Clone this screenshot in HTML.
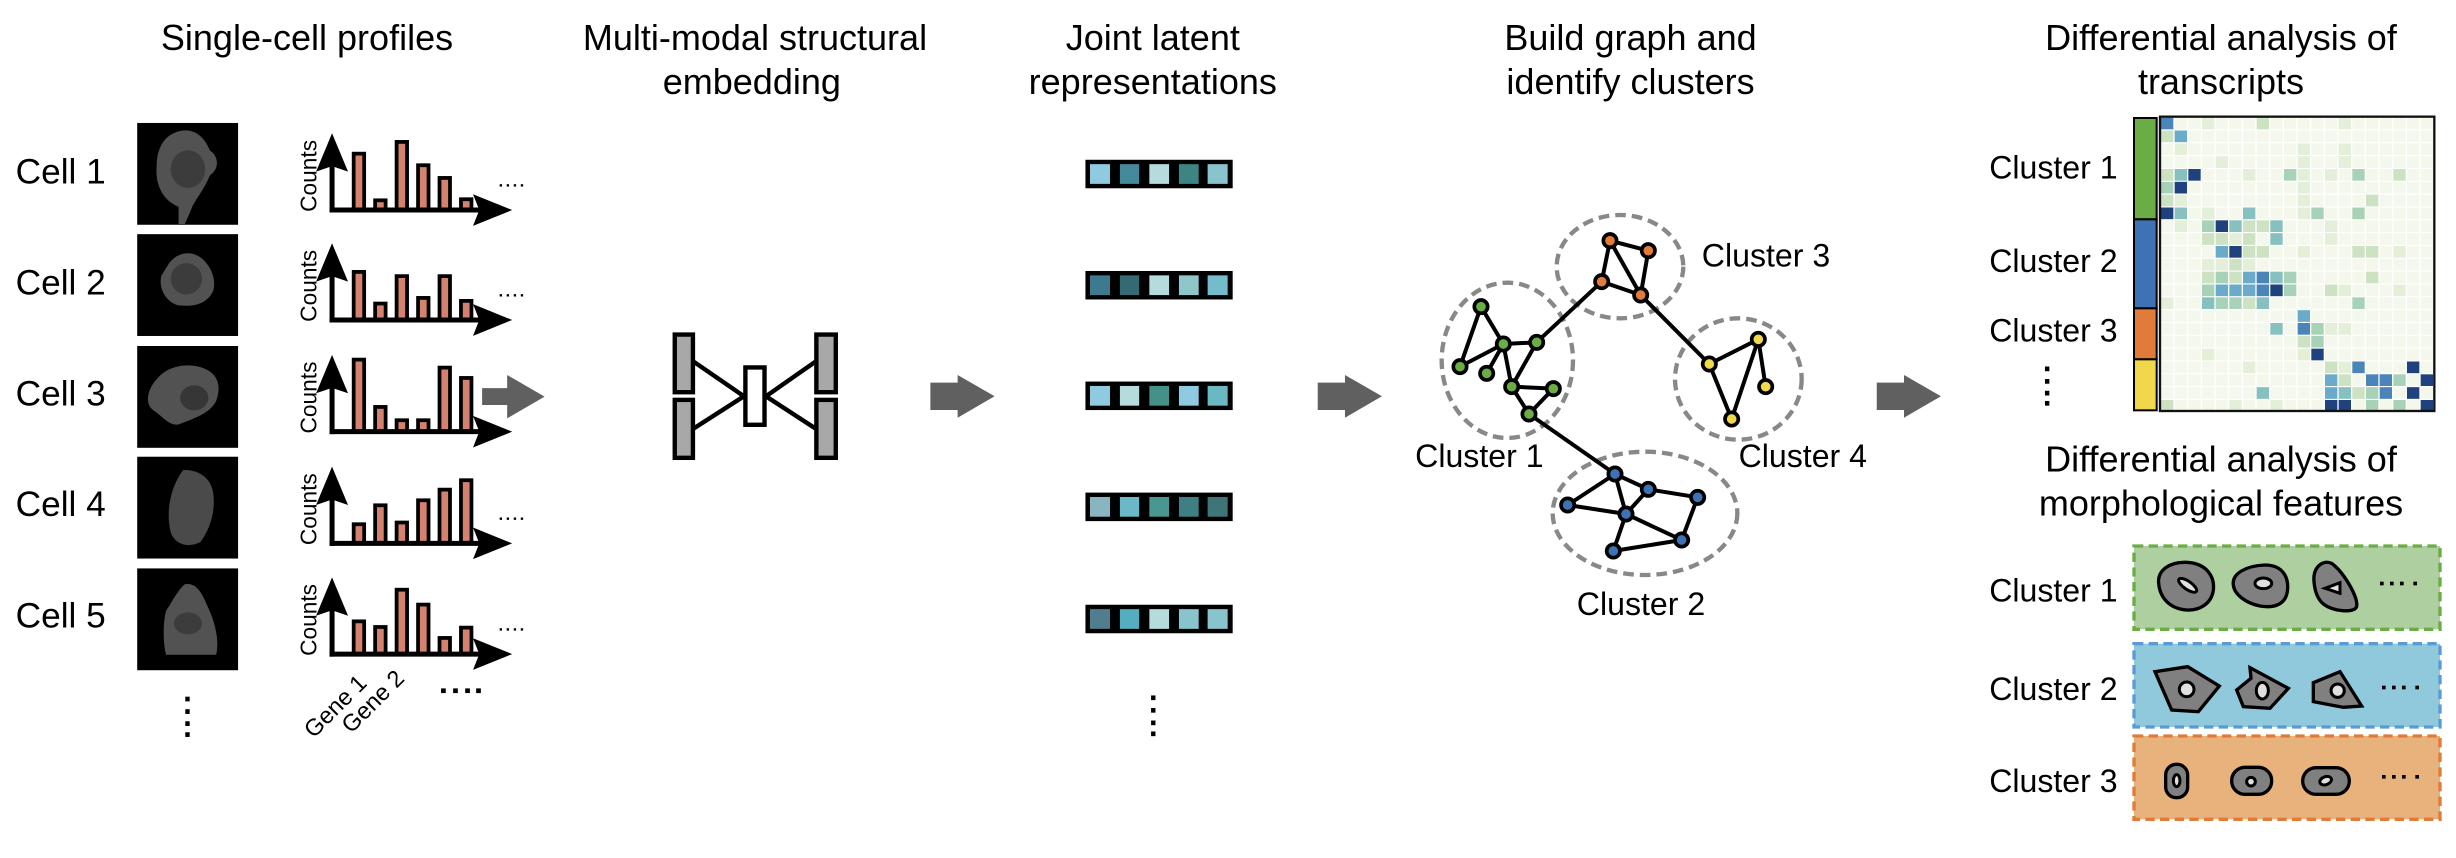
<!DOCTYPE html>
<html><head><meta charset="utf-8"><style>
html,body{margin:0;padding:0;background:#fff;}
svg{display:block;}
text{font-family:"Liberation Sans",Arial,sans-serif;fill:#000;}
</style></head><body>
<svg width="2456" height="858" viewBox="0 0 2456 858" xmlns="http://www.w3.org/2000/svg">
<defs>
<pattern id="grid" x="603" y="53" width="41" height="38.5" patternUnits="userSpaceOnUse">
<rect x="0" y="0" width="41" height="38.5" fill="#ffffff"/>
<rect x="0" y="0" width="37" height="35" fill="#f4f8ec"/>
</pattern>
</defs>
<rect width="2456" height="858" fill="#fff"/>
<g transform="scale(1.5663)">
<g font-size="23" text-anchor="middle">
<text x="196" y="32">Single-cell profiles</text>
<text x="482" y="32">Multi-modal structural</text>
<text x="480" y="60">embedding</text>
<text x="736" y="32">Joint latent</text>
<text x="736" y="60">representations</text>
<text x="1041" y="32">Build graph and</text>
<text x="1041" y="60">identify clusters</text>
<text x="1418" y="32">Differential analysis of</text>
<text x="1418" y="60">transcripts</text>
<text x="1418" y="301">Differential analysis of</text>
<text x="1418" y="329">morphological features</text>
</g>
<g font-size="22.5">
<text x="10" y="117">Cell 1</text>
<text x="10" y="188">Cell 2</text>
<text x="10" y="259">Cell 3</text>
<text x="10" y="329.5">Cell 4</text>
<text x="10" y="400.5">Cell 5</text>
</g>
<g>
<rect x="87.6" y="78.5" width="64.4" height="65" fill="#000"/>
<path d="M111,85 C122,80 130,86 134,96 C140,100 140,108 134,112 C130,122 124,128 122,134 L118,143 L114,143 L114,132 C104,128 99,118 100,106 C100,96 104,88 111,85 Z" fill="#525252"/>
<ellipse cx="120" cy="108" rx="11" ry="12" fill="#3c3c3c"/>
<rect x="87.6" y="149.5" width="64.4" height="65" fill="#000"/>
<path d="M108,168 C114,160 124,160 130,166 C136,172 138,180 136,186 C132,194 124,196 114,195 C106,193 101,184 103,176 Z" fill="#525252"/>
<ellipse cx="119" cy="178" rx="10" ry="10" fill="#3c3c3c"/>
<rect x="87.6" y="220.9" width="64.4" height="65" fill="#000"/>
<path d="M101,241 C108,233 122,231 132,236 C140,240 141,248 138,256 C134,264 124,267 114,271 C108,272 104,266 98,262 C92,258 94,248 101,241 Z" fill="#525252"/>
<ellipse cx="124" cy="254" rx="9" ry="8" fill="#363636"/>
<rect x="87.6" y="291.6" width="64.4" height="65" fill="#000"/>
<path d="M117,300 C126,300 134,304 136,314 C138,326 134,338 128,346 C120,350 112,348 109,340 C106,328 108,312 117,300 Z" fill="#4a4a4a"/>
<rect x="87.6" y="362.9" width="64.4" height="65" fill="#000"/>
<path d="M118,373 C124,372 128,376 132,386 C138,398 140,410 138,418 L106,418 C104,410 104,398 106,390 C110,384 114,376 118,373 Z" fill="#525252"/>
<ellipse cx="120" cy="398" rx="9" ry="7" fill="#3c3c3c"/>
</g>
<g fill="#000">
<rect x="118.3" y="444.8" width="2.8" height="3"/><rect x="118.3" y="452.8" width="2.8" height="3"/><rect x="118.3" y="460.5" width="2.8" height="3"/><rect x="118.3" y="467.5" width="2.8" height="3"/>
</g>
<g transform="translate(0,134.1)">
<g fill="#d4826e" stroke="#000" stroke-width="2.4">
<rect x="225.8" y="-36" width="6.7" height="36"/>
<rect x="239.5" y="-6.2" width="6.7" height="6.2"/>
<rect x="253.2" y="-43.5" width="6.7" height="43.5"/>
<rect x="266.9" y="-28.6" width="6.7" height="28.6"/>
<rect x="280.6" y="-20.5" width="6.7" height="20.5"/>
<rect x="294.3" y="-6.9" width="6.7" height="6.9"/>
</g>
</g>
<g transform="translate(0,204.3)">
<g fill="#d4826e" stroke="#000" stroke-width="2.4">
<rect x="225.8" y="-30.7" width="6.7" height="30.7"/>
<rect x="239.5" y="-10.5" width="6.7" height="10.5"/>
<rect x="253.2" y="-28" width="6.7" height="28"/>
<rect x="266.9" y="-14.1" width="6.7" height="14.1"/>
<rect x="280.6" y="-28" width="6.7" height="28"/>
<rect x="294.3" y="-12.2" width="6.7" height="12.2"/>
</g>
</g>
<g transform="translate(0,275.6)">
<g fill="#d4826e" stroke="#000" stroke-width="2.4">
<rect x="225.8" y="-46" width="6.7" height="46"/>
<rect x="239.5" y="-15.8" width="6.7" height="15.8"/>
<rect x="253.2" y="-7.3" width="6.7" height="7.3"/>
<rect x="266.9" y="-7.3" width="6.7" height="7.3"/>
<rect x="280.6" y="-40.9" width="6.7" height="40.9"/>
<rect x="294.3" y="-34.3" width="6.7" height="34.3"/>
</g>
</g>
<g transform="translate(0,346.9)">
<g fill="#d4826e" stroke="#000" stroke-width="2.4">
<rect x="225.8" y="-12.2" width="6.7" height="12.2"/>
<rect x="239.5" y="-24.3" width="6.7" height="24.3"/>
<rect x="253.2" y="-13.3" width="6.7" height="13.3"/>
<rect x="266.9" y="-27.5" width="6.7" height="27.5"/>
<rect x="280.6" y="-34.3" width="6.7" height="34.3"/>
<rect x="294.3" y="-40.3" width="6.7" height="40.3"/>
</g>
</g>
<g transform="translate(0,417.6)">
<g fill="#d4826e" stroke="#000" stroke-width="2.4">
<rect x="225.8" y="-20.9" width="6.7" height="20.9"/>
<rect x="239.5" y="-17.3" width="6.7" height="17.3"/>
<rect x="253.2" y="-41.1" width="6.7" height="41.1"/>
<rect x="266.9" y="-31.6" width="6.7" height="31.6"/>
<rect x="280.6" y="-10.3" width="6.7" height="10.3"/>
<rect x="294.3" y="-16.9" width="6.7" height="16.9"/>
</g>
</g>
<g>
<g transform="translate(0,134.1)">
<line x1="212" y1="1.6" x2="212" y2="-30" stroke="#000" stroke-width="3.2"/><polygon points="212,-49 201.8,-24.5 212,-28 222.2,-24.5" fill="#000"/>
<line x1="210.4" y1="0" x2="312" y2="0" stroke="#000" stroke-width="3.2"/><polygon points="327,0 302,-10.1 306,0 302,10.1" fill="#000"/>
<text x="202" y="-21.8" font-size="14.5" text-anchor="middle" transform="rotate(-90 202 -21.8)">Counts</text>
<g fill="#000"><rect x="319" y="-16.5" width="1.5" height="1.5"/><rect x="323.5" y="-16.5" width="1.5" height="1.5"/><rect x="328" y="-16.5" width="1.5" height="1.5"/><rect x="332.5" y="-16.5" width="1.5" height="1.5"/></g>
</g>
<g transform="translate(0,204.3)">
<line x1="212" y1="1.6" x2="212" y2="-30" stroke="#000" stroke-width="3.2"/><polygon points="212,-49 201.8,-24.5 212,-28 222.2,-24.5" fill="#000"/>
<line x1="210.4" y1="0" x2="312" y2="0" stroke="#000" stroke-width="3.2"/><polygon points="327,0 302,-10.1 306,0 302,10.1" fill="#000"/>
<text x="202" y="-21.8" font-size="14.5" text-anchor="middle" transform="rotate(-90 202 -21.8)">Counts</text>
<g fill="#000"><rect x="319" y="-16.5" width="1.5" height="1.5"/><rect x="323.5" y="-16.5" width="1.5" height="1.5"/><rect x="328" y="-16.5" width="1.5" height="1.5"/><rect x="332.5" y="-16.5" width="1.5" height="1.5"/></g>
</g>
<g transform="translate(0,275.6)">
<line x1="212" y1="1.6" x2="212" y2="-30" stroke="#000" stroke-width="3.2"/><polygon points="212,-49 201.8,-24.5 212,-28 222.2,-24.5" fill="#000"/>
<line x1="210.4" y1="0" x2="312" y2="0" stroke="#000" stroke-width="3.2"/><polygon points="327,0 302,-10.1 306,0 302,10.1" fill="#000"/>
<text x="202" y="-21.8" font-size="14.5" text-anchor="middle" transform="rotate(-90 202 -21.8)">Counts</text>
</g>
<g transform="translate(0,346.9)">
<line x1="212" y1="1.6" x2="212" y2="-30" stroke="#000" stroke-width="3.2"/><polygon points="212,-49 201.8,-24.5 212,-28 222.2,-24.5" fill="#000"/>
<line x1="210.4" y1="0" x2="312" y2="0" stroke="#000" stroke-width="3.2"/><polygon points="327,0 302,-10.1 306,0 302,10.1" fill="#000"/>
<text x="202" y="-21.8" font-size="14.5" text-anchor="middle" transform="rotate(-90 202 -21.8)">Counts</text>
<g fill="#000"><rect x="319" y="-16.5" width="1.5" height="1.5"/><rect x="323.5" y="-16.5" width="1.5" height="1.5"/><rect x="328" y="-16.5" width="1.5" height="1.5"/><rect x="332.5" y="-16.5" width="1.5" height="1.5"/></g>
</g>
<g transform="translate(0,417.6)">
<line x1="212" y1="1.6" x2="212" y2="-30" stroke="#000" stroke-width="3.2"/><polygon points="212,-49 201.8,-24.5 212,-28 222.2,-24.5" fill="#000"/>
<line x1="210.4" y1="0" x2="312" y2="0" stroke="#000" stroke-width="3.2"/><polygon points="327,0 302,-10.1 306,0 302,10.1" fill="#000"/>
<text x="202" y="-21.8" font-size="14.5" text-anchor="middle" transform="rotate(-90 202 -21.8)">Counts</text>
<g fill="#000"><rect x="319" y="-16.5" width="1.5" height="1.5"/><rect x="323.5" y="-16.5" width="1.5" height="1.5"/><rect x="328" y="-16.5" width="1.5" height="1.5"/><rect x="332.5" y="-16.5" width="1.5" height="1.5"/></g>
</g>
</g>
<text x="235" y="437" font-size="15" text-anchor="end" transform="rotate(-45 235 437)">Gene 1</text>
<text x="259" y="434" font-size="15" text-anchor="end" transform="rotate(-45 259 434)">Gene 2</text>
<g fill="#000"><rect x="281.6" y="439.5" width="3" height="3"/><rect x="289.3" y="439.5" width="3" height="3"/><rect x="297" y="439.5" width="3" height="3"/><rect x="304" y="439.5" width="3" height="3"/></g>

<g fill="#5f605f">
<polygon points="307.8,247.8 323.8,247.8 323.8,239.4 347.7,253.2 323.8,267.1 323.8,258.6 307.8,258.6"/>
<polygon points="594,244.3 611.4,244.3 611.4,239.4 635,253 611.4,266.7 611.4,261.8 594,261.8"/>
<polygon points="841.3,244.3 858.7,244.3 858.7,239.4 882.3,253 858.7,266.7 858.7,261.8 841.3,261.8"/>
<polygon points="1198.2,244.3 1215.6,244.3 1215.6,239.4 1239.2,253 1215.6,266.7 1215.6,261.8 1198.2,261.8"/>
</g>

<g stroke="#000" stroke-width="2.8">
<line x1="443" y1="231" x2="475" y2="253"/>
<line x1="443" y1="273.5" x2="475" y2="253"/>
<line x1="520.5" y1="231" x2="489" y2="253"/>
<line x1="520.5" y1="273.5" x2="489" y2="253"/>
<rect x="430.8" y="213.6" width="11.6" height="36.8" fill="#a8a8a8"/>
<rect x="430.8" y="255.3" width="11.6" height="37" fill="#a8a8a8"/>
<rect x="521.2" y="213.6" width="12.4" height="36.8" fill="#a8a8a8"/>
<rect x="521.2" y="255.3" width="12.4" height="37" fill="#a8a8a8"/>
<rect x="475.9" y="234.6" width="12.2" height="36.6" fill="#fff"/>
</g>

<g>
<g transform="translate(0,102)">
<rect x="693" y="0" width="94" height="18.2" fill="#000"/>
<rect x="695.9" y="2.8" width="12.8" height="12.6" fill="#8ecae0"/><rect x="715" y="2.8" width="12.3" height="12.6" fill="#45899c"/><rect x="733.8" y="2.8" width="12.6" height="12.6" fill="#b5dbdc"/><rect x="752.7" y="2.8" width="12.6" height="12.6" fill="#3d8585"/><rect x="771" y="2.8" width="12.8" height="12.6" fill="#88c4cc"/>
</g>
<g transform="translate(0,173)">
<rect x="693" y="0" width="94" height="18.2" fill="#000"/>
<rect x="695.9" y="2.8" width="12.8" height="12.6" fill="#3d7a8d"/><rect x="715" y="2.8" width="12.3" height="12.6" fill="#356a75"/><rect x="733.8" y="2.8" width="12.6" height="12.6" fill="#b5dbdc"/><rect x="752.7" y="2.8" width="12.6" height="12.6" fill="#8fc6c9"/><rect x="771" y="2.8" width="12.8" height="12.6" fill="#74bccb"/>
</g>
<g transform="translate(0,243.6)">
<rect x="693" y="0" width="94" height="18.2" fill="#000"/>
<rect x="695.9" y="2.8" width="12.8" height="12.6" fill="#8ecae0"/><rect x="715" y="2.8" width="12.3" height="12.6" fill="#b5dbdc"/><rect x="733.8" y="2.8" width="12.6" height="12.6" fill="#459088"/><rect x="752.7" y="2.8" width="12.6" height="12.6" fill="#8ecae0"/><rect x="771" y="2.8" width="12.8" height="12.6" fill="#6ab8c2"/>
</g>
<g transform="translate(0,314.5)">
<rect x="693" y="0" width="94" height="18.2" fill="#000"/>
<rect x="695.9" y="2.8" width="12.8" height="12.6" fill="#89b5c1"/><rect x="715" y="2.8" width="12.3" height="12.6" fill="#6ab8c8"/><rect x="733.8" y="2.8" width="12.6" height="12.6" fill="#4a9690"/><rect x="752.7" y="2.8" width="12.6" height="12.6" fill="#3d7f82"/><rect x="771" y="2.8" width="12.8" height="12.6" fill="#3e7677"/>
</g>
<g transform="translate(0,386.1)">
<rect x="693" y="0" width="94" height="18.2" fill="#000"/>
<rect x="695.9" y="2.8" width="12.8" height="12.6" fill="#4f7f8f"/><rect x="715" y="2.8" width="12.3" height="12.6" fill="#55adc0"/><rect x="733.8" y="2.8" width="12.6" height="12.6" fill="#b5dbdc"/><rect x="752.7" y="2.8" width="12.6" height="12.6" fill="#88c4cc"/><rect x="771" y="2.8" width="12.8" height="12.6" fill="#88c4cc"/>
</g>
<g fill="#000"><rect x="734.9" y="444" width="2.8" height="3"/><rect x="734.9" y="452" width="2.8" height="3"/><rect x="734.9" y="460" width="2.8" height="3"/><rect x="734.9" y="467" width="2.8" height="3"/></g>
</g>

<g font-size="20.5">
<text x="1086.5" y="170">Cluster 3</text>
<text x="903.5" y="298">Cluster 1</text>
<text x="1110" y="298">Cluster 4</text>
<text x="1006.7" y="392.5">Cluster 2</text>
</g>
<g font-size="20.5">
<text x="1270" y="114">Cluster 1</text>
<text x="1270" y="173.5">Cluster 2</text>
<text x="1270" y="218">Cluster 3</text>
<text x="1270" y="384">Cluster 1</text>
<text x="1270" y="447">Cluster 2</text>
<text x="1270" y="505.5">Cluster 3</text>
</g>
<g fill="#000"><rect x="1305.6" y="234" width="2.8" height="3"/><rect x="1305.6" y="242" width="2.8" height="3"/><rect x="1305.6" y="249.5" width="2.8" height="3"/><rect x="1305.6" y="256" width="2.8" height="3"/></g>
</g>

<g transform="translate(1400,200) scale(0.33333)">
<g fill="none" stroke="#888" stroke-width="13" stroke-dasharray="32 18">
<ellipse cx="322" cy="481" rx="197" ry="233"/>
<ellipse cx="660" cy="200" rx="190" ry="155"/>
<ellipse cx="1015" cy="537" rx="190" ry="182"/>
<ellipse cx="735" cy="940" rx="277" ry="185"/>
</g>
<g stroke="#000" stroke-width="12">
<line x1="243" y1="320" x2="180" y2="500"/><line x1="243" y1="320" x2="310" y2="432"/><line x1="180" y1="500" x2="310" y2="432"/><line x1="310" y1="432" x2="410" y2="427"/><line x1="310" y1="432" x2="260" y2="520"/><line x1="310" y1="432" x2="335" y2="560"/><line x1="410" y1="427" x2="335" y2="560"/><line x1="335" y1="560" x2="460" y2="566"/><line x1="335" y1="560" x2="387" y2="642"/><line x1="460" y1="566" x2="387" y2="642"/>
<line x1="410" y1="427" x2="605" y2="245"/><line x1="387" y1="642" x2="645" y2="822"/>
<line x1="630" y1="122" x2="745" y2="152"/><line x1="630" y1="122" x2="605" y2="245"/><line x1="630" y1="122" x2="722" y2="285"/><line x1="745" y1="152" x2="722" y2="285"/><line x1="605" y1="245" x2="722" y2="285"/>
<line x1="722" y1="285" x2="928" y2="492"/>
<line x1="928" y1="492" x2="1075" y2="418"/><line x1="928" y1="492" x2="995" y2="657"/><line x1="1075" y1="418" x2="995" y2="657"/><line x1="1075" y1="418" x2="1097" y2="560"/>
<line x1="645" y1="822" x2="503" y2="915"/><line x1="645" y1="822" x2="745" y2="868"/><line x1="645" y1="822" x2="678" y2="942"/><line x1="745" y1="868" x2="893" y2="892"/><line x1="745" y1="868" x2="678" y2="942"/><line x1="503" y1="915" x2="678" y2="942"/><line x1="678" y1="942" x2="845" y2="1020"/><line x1="678" y1="942" x2="640" y2="1053"/><line x1="893" y1="892" x2="845" y2="1020"/><line x1="640" y1="1053" x2="845" y2="1020"/>
</g>
<g stroke="#000" stroke-width="11">
<g fill="#6aad45"><circle cx="243" cy="320" r="20"/><circle cx="310" cy="432" r="20"/><circle cx="410" cy="427" r="20"/><circle cx="180" cy="500" r="20"/><circle cx="260" cy="520" r="20"/><circle cx="335" cy="560" r="20"/><circle cx="460" cy="566" r="20"/><circle cx="387" cy="642" r="20"/></g>
<g fill="#e07b39"><circle cx="630" cy="122" r="20"/><circle cx="745" cy="152" r="20"/><circle cx="605" cy="245" r="20"/><circle cx="722" cy="285" r="20"/></g>
<g fill="#f0d84a"><circle cx="928" cy="492" r="20"/><circle cx="1075" cy="418" r="20"/><circle cx="1097" cy="560" r="20"/><circle cx="995" cy="657" r="20"/></g>
<g fill="#3d72b5"><circle cx="645" cy="822" r="20"/><circle cx="745" cy="868" r="20"/><circle cx="893" cy="892" r="20"/><circle cx="503" cy="915" r="20"/><circle cx="678" cy="942" r="20"/><circle cx="845" cy="1020" r="20"/><circle cx="640" cy="1053" r="20"/></g>
</g>
</g>

<g transform="translate(1960,100) scale(0.33333)">
<rect x="522" y="54" width="68" height="304" fill="#6aad45" stroke="#000" stroke-width="6"/>
<rect x="522" y="358" width="68" height="267" fill="#3d72b5" stroke="#000" stroke-width="6"/>
<rect x="522" y="625" width="68" height="153" fill="#e07b39" stroke="#000" stroke-width="6"/>
<rect x="522" y="778" width="68" height="153" fill="#f0d84a" stroke="#000" stroke-width="6"/>
<rect x="600" y="50" width="825" height="885" fill="url(#grid)"/>
<g>
<g fill="#e4efda">
<rect x="726" y="53" width="37" height="35"/><rect x="1136" y="53" width="37" height="35"/>
<rect x="644" y="130" width="37" height="35"/><rect x="1013" y="130" width="37" height="35"/><rect x="1136" y="130" width="37" height="35"/>
<rect x="767" y="168.5" width="37" height="35"/><rect x="1013" y="168.5" width="37" height="35"/><rect x="1136" y="168.5" width="37" height="35"/>
<rect x="849" y="207" width="37" height="35"/><rect x="1013" y="207" width="37" height="35"/><rect x="1095" y="207" width="37" height="35"/>
<rect x="1013" y="245.5" width="37" height="35"/>
<rect x="644" y="284" width="37" height="35"/><rect x="1013" y="284" width="37" height="35"/>
<rect x="726" y="322.5" width="37" height="35"/><rect x="1013" y="322.5" width="37" height="35"/>
<rect x="644" y="361" width="37" height="35"/><rect x="1095" y="361" width="37" height="35"/>
<rect x="808" y="399.5" width="37" height="35"/><rect x="1095" y="399.5" width="37" height="35"/>
<rect x="1013" y="438" width="37" height="35"/><rect x="1300" y="438" width="37" height="35"/>
<rect x="726" y="476.5" width="37" height="35"/><rect x="767" y="476.5" width="37" height="35"/><rect x="849" y="476.5" width="37" height="35"/>
<rect x="1136" y="553.5" width="37" height="35"/><rect x="1300" y="553.5" width="37" height="35"/>
<rect x="603" y="592" width="37" height="35"/>
<rect x="1095" y="669" width="37" height="35"/><rect x="1136" y="669" width="37" height="35"/>
<rect x="726" y="746" width="37" height="35"/><rect x="1013" y="746" width="37" height="35"/>
<rect x="849" y="784.5" width="37" height="35"/><rect x="1136" y="784.5" width="37" height="35"/>
<rect x="808" y="900" width="37" height="35"/><rect x="931" y="900" width="37" height="35"/>
</g>
<g fill="#cce2c3">
<rect x="890" y="53" width="37" height="35"/>
<rect x="603" y="91.5" width="37" height="35"/>
<rect x="603" y="207" width="37" height="35"/><rect x="1300" y="207" width="37" height="35"/>
<rect x="603" y="284" width="37" height="35"/><rect x="1218" y="284" width="37" height="35"/>
<rect x="849" y="361" width="37" height="35"/><rect x="890" y="361" width="37" height="35"/>
<rect x="726" y="399.5" width="37" height="35"/><rect x="767" y="399.5" width="37" height="35"/><rect x="849" y="399.5" width="37" height="35"/>
<rect x="849" y="438" width="37" height="35"/><rect x="890" y="438" width="37" height="35"/><rect x="1177" y="438" width="37" height="35"/><rect x="1218" y="438" width="37" height="35"/>
<rect x="808" y="476.5" width="37" height="35"/>
<rect x="726" y="515" width="37" height="35"/><rect x="808" y="515" width="37" height="35"/><rect x="1218" y="515" width="37" height="35"/>
<rect x="1095" y="553.5" width="37" height="35"/>
<rect x="849" y="592" width="37" height="35"/>
<rect x="1013" y="707.5" width="37" height="35"/>
<rect x="1095" y="784.5" width="37" height="35"/>
<rect x="1136" y="823" width="37" height="35"/>
<rect x="1177" y="861.5" width="37" height="35"/>
<rect x="603" y="900" width="37" height="35"/>
</g>
<g fill="#a8d2b8">
<rect x="972" y="207" width="37" height="35"/><rect x="1177" y="207" width="37" height="35"/>
<rect x="603" y="245.5" width="37" height="35"/>
<rect x="1054" y="322.5" width="37" height="35"/><rect x="1177" y="322.5" width="37" height="35"/>
<rect x="726" y="361" width="37" height="35"/>
<rect x="767" y="515" width="37" height="35"/><rect x="972" y="515" width="37" height="35"/>
<rect x="726" y="553.5" width="37" height="35"/><rect x="972" y="553.5" width="37" height="35"/>
<rect x="767" y="592" width="37" height="35"/><rect x="808" y="592" width="37" height="35"/><rect x="1177" y="592" width="37" height="35"/>
<rect x="1054" y="669" width="37" height="35"/><rect x="1054" y="707.5" width="37" height="35"/>
<rect x="1300" y="823" width="37" height="35"/><rect x="1218" y="861.5" width="37" height="35"/>
<rect x="1218" y="900" width="37" height="35"/><rect x="1300" y="900" width="37" height="35"/>
</g>
<g fill="#86c0bf">
<rect x="644" y="207" width="37" height="35"/>
<rect x="644" y="322.5" width="37" height="35"/><rect x="849" y="322.5" width="37" height="35"/>
<rect x="808" y="361" width="37" height="35"/><rect x="931" y="361" width="37" height="35"/>
<rect x="931" y="399.5" width="37" height="35"/>
<rect x="931" y="515" width="37" height="35"/>
<rect x="726" y="592" width="37" height="35"/><rect x="890" y="592" width="37" height="35"/>
<rect x="931" y="669" width="37" height="35"/>
<rect x="1259" y="823" width="37" height="35"/>
<rect x="890" y="861.5" width="37" height="35"/><rect x="1136" y="861.5" width="37" height="35"/>
</g>
<g fill="#6aabcb">
<rect x="644" y="91.5" width="37" height="35"/>
<rect x="767" y="438" width="37" height="35"/>
<rect x="849" y="515" width="37" height="35"/>
<rect x="767" y="553.5" width="37" height="35"/><rect x="808" y="553.5" width="37" height="35"/><rect x="849" y="553.5" width="37" height="35"/>
<rect x="1013" y="630.5" width="37" height="35"/>
<rect x="1095" y="823" width="37" height="35"/><rect x="1095" y="861.5" width="37" height="35"/>
</g>
<g fill="#4a84b8">
<rect x="603" y="53" width="37" height="35"/>
<rect x="890" y="515" width="37" height="35"/><rect x="890" y="553.5" width="37" height="35"/>
<rect x="1013" y="669" width="37" height="35"/>
<rect x="1177" y="784.5" width="37" height="35"/>
<rect x="1218" y="823" width="37" height="35"/><rect x="1259" y="823" width="37" height="35"/>
<rect x="1259" y="861.5" width="37" height="35"/>
</g>
<g fill="#1f417d">
<rect x="685" y="207" width="37" height="35"/>
<rect x="644" y="245.5" width="37" height="35"/>
<rect x="603" y="322.5" width="37" height="35"/>
<rect x="767" y="361" width="37" height="35"/>
<rect x="808" y="438" width="37" height="35"/>
<rect x="931" y="553.5" width="37" height="35"/>
<rect x="1054" y="746" width="37" height="35"/>
<rect x="1341" y="784.5" width="37" height="35"/>
<rect x="1382" y="823" width="37" height="35"/>
<rect x="1341" y="861.5" width="37" height="35"/>
<rect x="1095" y="900" width="37" height="35"/><rect x="1136" y="900" width="37" height="35"/><rect x="1382" y="900" width="37" height="35"/>
</g>
</g>
<rect x="600" y="50" width="823" height="883" fill="none" stroke="#111" stroke-width="7"/>
</g>

<g transform="translate(1960,520) scale(0.33333)">
<g stroke-width="10" stroke-dasharray="28 16">
<rect x="522" y="78" width="918" height="250" fill="#aecf9f" stroke="#6aad45"/>
<rect x="522" y="371" width="918" height="250" fill="#90c8dc" stroke="#5b9bd5"/>
<rect x="522" y="648" width="918" height="250" fill="#e8b27d" stroke="#e07b39"/>
</g>
<g stroke="#000" stroke-width="10" fill="#808080">
<path d="M596,190 C592,150 630,125 680,127 C740,130 765,170 760,210 C755,250 720,272 680,270 C630,266 600,235 596,190 Z"/>
<path d="M820,195 C815,160 860,137 915,135 C970,135 988,175 982,215 C976,255 940,265 900,258 C860,250 823,225 820,195 Z"/>
<path d="M1062,185 C1058,140 1090,118 1115,130 C1150,155 1195,230 1190,260 C1183,280 1120,275 1090,252 C1070,235 1064,210 1062,185 Z"/>
<polygon points="585,455 683,440 778,498 715,575 635,570"/>
<polygon points="830,510 873,475 870,443 985,505 930,565 850,560"/>
<polygon points="1060,488 1140,455 1205,558 1150,562 1060,545"/>
<rect x="617" y="733" width="66" height="100" rx="32"/>
<rect x="815" y="742" width="120" height="81" rx="40"/>
<rect x="1028" y="743" width="140" height="80" rx="40"/>
</g>
<g stroke="#000" stroke-width="9" fill="#e0e0e0">
<ellipse cx="683" cy="196" rx="32" ry="12" transform="rotate(35 683 196)"/>
<ellipse cx="910" cy="190" rx="25" ry="16"/>
<polygon points="1095,205 1140,188 1140,220"/>
<circle cx="680" cy="508" r="22"/>
<ellipse cx="907" cy="512" rx="18" ry="25"/>
<circle cx="1133" cy="512" r="20"/>
<ellipse cx="650" cy="782" rx="10" ry="18"/>
<circle cx="873" cy="785" r="13"/>
<ellipse cx="1097" cy="782" rx="18" ry="12" transform="rotate(-20 1097 782)"/>
</g>
<g fill="#000">
<rect x="1260" y="185" width="11" height="11"/><rect x="1290" y="185" width="11" height="11"/><rect x="1320" y="185" width="11" height="11"/><rect x="1360" y="185" width="11" height="11"/>
<rect x="1266" y="497" width="11" height="11"/><rect x="1296" y="497" width="11" height="11"/><rect x="1326" y="497" width="11" height="11"/><rect x="1366" y="497" width="11" height="11"/>
<rect x="1266" y="765" width="11" height="11"/><rect x="1296" y="765" width="11" height="11"/><rect x="1326" y="765" width="11" height="11"/><rect x="1366" y="765" width="11" height="11"/>
</g>
</g>
</svg>
</body></html>
